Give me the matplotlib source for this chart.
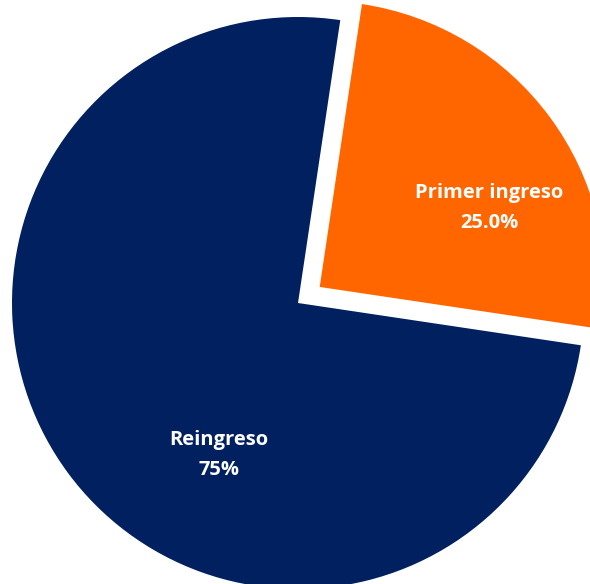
import matplotlib
matplotlib.use("Agg")
import matplotlib.pyplot as plt

# Share of students by type of admission
categories = ["Reingreso", "Primer ingreso"]
shares = [75.0, 25.0]
value_labels = ["75%", "25.0%"]
colors = ["#002060", "#FF6600"]
explode = [0, 27]

W, H = 590, 584
fig = plt.figure(figsize=(W / 100, H / 100), dpi=100)
ax = fig.add_axes([0, 0, 1, 1])

center = (298, H - 303)
radius = 286
ax.pie(shares, colors=colors, explode=explode, startangle=81.5,
       counterclock=True, center=center, radius=radius,
       wedgeprops=dict(linewidth=0), frame=True)
ax.set_xlim(0, W)
ax.set_ylim(0, H)
ax.set_aspect("equal")
ax.axis("off")

label_pos = {"Reingreso": (219, H - 455), "Primer ingreso": (489, H - 208)}
for cat, lab in zip(categories, value_labels):
    x, y = label_pos[cat]
    ax.text(x, y, f"{cat}\n{lab}", ha="center", va="center", color="white",
            fontsize=14.5, fontweight="bold", family="Open Sans",
            linespacing=1.7)

# Title sitting mostly above the canvas
ax.text(560, H + 5, "Distribución de estudiantes por tipo de ingreso",
        ha="right", va="baseline", fontsize=13, color="#222222",
        family="Open Sans")

fig.savefig("out.png", dpi=100)
